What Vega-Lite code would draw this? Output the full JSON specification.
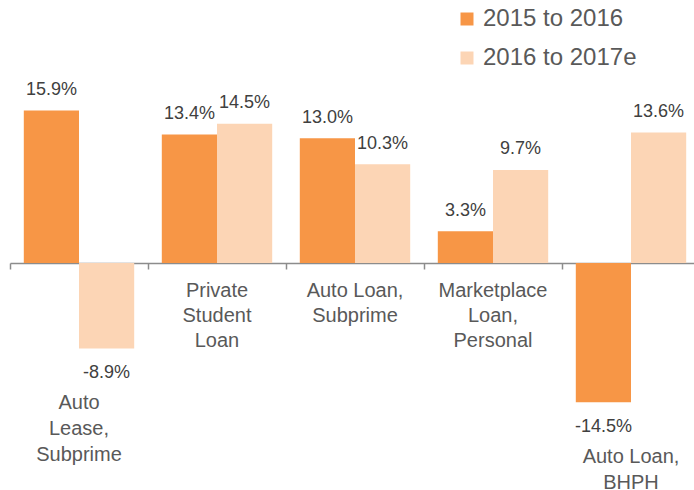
{
  "$schema": "https://vega.github.io/schema/vega-lite/v6.json",
  "width": 690,
  "height": 455,
  "autosize": {"type": "none"},
  "padding": {"left": 10, "top": 0, "right": 0, "bottom": 35},
  "background": "white",
  "config": {
    "view": {"stroke": null},
    "font": "Liberation Sans",
    "text": {"font": "Liberation Sans", "color": "#595959"}
  },
  "data": {
    "values": [
      {"category": "Auto Lease, Subprime", "lines": ["Auto", "Lease,", "Subprime"], "series": "2015 to 2016", "value": 15.9},
      {"category": "Auto Lease, Subprime", "lines": ["Auto", "Lease,", "Subprime"], "series": "2016 to 2017e", "value": -8.9},
      {"category": "Private Student Loan", "lines": ["Private", "Student", "Loan"], "series": "2015 to 2016", "value": 13.4},
      {"category": "Private Student Loan", "lines": ["Private", "Student", "Loan"], "series": "2016 to 2017e", "value": 14.5},
      {"category": "Auto Loan, Subprime", "lines": ["Auto Loan,", "Subprime"], "series": "2015 to 2016", "value": 13.0},
      {"category": "Auto Loan, Subprime", "lines": ["Auto Loan,", "Subprime"], "series": "2016 to 2017e", "value": 10.3},
      {"category": "Marketplace Loan, Personal", "lines": ["Marketplace", "Loan,", "Personal"], "series": "2015 to 2016", "value": 3.3},
      {"category": "Marketplace Loan, Personal", "lines": ["Marketplace", "Loan,", "Personal"], "series": "2016 to 2017e", "value": 9.7},
      {"category": "Auto Loan, BHPH", "lines": ["Auto Loan,", "BHPH"], "series": "2015 to 2016", "value": -14.5},
      {"category": "Auto Loan, BHPH", "lines": ["Auto Loan,", "BHPH"], "series": "2016 to 2017e", "value": 13.6}
    ]
  },
  "transform": [
    {"calculate": "replace(format(datum.value, '.1f'), '\u2212', '-') + '%'", "as": "label"}
  ],
  "encoding": {
    "x": {
      "field": "category",
      "type": "nominal",
      "sort": null,
      "scale": {"paddingInner": 0.2, "paddingOuter": 0.1},
      "axis": {
        "title": null,
        "labels": false,
        "orient": "bottom",
        "offset": -192,
        "bandPosition": -0.125,
        "domainColor": "#8c8c8c",
        "domainWidth": 1.5,
        "tickColor": "#8c8c8c",
        "tickWidth": 1.5,
        "tickSize": 6
      }
    },
    "y": {
      "type": "quantitative",
      "scale": {"domain": [-20, 27.4], "nice": false, "zero": false},
      "axis": null
    }
  },
  "layer": [
    {
      "mark": {"type": "bar"},
      "encoding": {
        "xOffset": {"field": "series", "type": "nominal"},
        "y": {"field": "value", "type": "quantitative"},
        "color": {
          "field": "series",
          "type": "nominal",
          "scale": {"domain": ["2015 to 2016", "2016 to 2017e"], "range": ["#F79646", "#FCD5B5"]},
          "legend": {
            "title": null,
            "orient": "none",
            "legendX": 445,
            "legendY": 7,
            "padding": 0,
            "symbolType": "square",
            "symbolSize": 169,
            "symbolStrokeWidth": 0,
            "labelFontSize": 24,
            "labelFont": "Liberation Sans",
            "labelColor": "#595959",
            "labelOffset": 4,
            "rowPadding": 15,
            "labelLimit": 300
          }
        }
      }
    },
    {
      "transform": [{"filter": "datum.value >= 0"}],
      "mark": {"type": "text", "fontSize": 18, "baseline": "alphabetic", "dy": -15.5, "color": "#404040"},
      "encoding": {
        "xOffset": {"field": "series", "type": "nominal"},
        "y": {"field": "value", "type": "quantitative"},
        "text": {"field": "label", "type": "nominal"}
      }
    },
    {
      "transform": [{"filter": "datum.value < 0"}],
      "mark": {"type": "text", "fontSize": 18, "baseline": "alphabetic", "dy": 29.5, "color": "#404040"},
      "encoding": {
        "xOffset": {"field": "series", "type": "nominal"},
        "y": {"field": "value", "type": "quantitative"},
        "text": {"field": "label", "type": "nominal"}
      }
    },
    {
      "transform": [
        {"joinaggregate": [{"op": "min", "field": "value", "as": "minv"}], "groupby": ["category"]},
        {"filter": "datum.series === '2015 to 2016' && datum.minv >= 0"}
      ],
      "mark": {"type": "text", "fontSize": 20, "baseline": "alphabetic", "dy": 33.5, "lineHeight": 25},
      "encoding": {
        "y": {"datum": 0, "type": "quantitative"},
        "text": {"field": "lines", "type": "nominal"}
      }
    },
    {
      "transform": [
        {"joinaggregate": [{"op": "min", "field": "value", "as": "minv"}], "groupby": ["category"]},
        {"filter": "datum.series === '2015 to 2016' && datum.minv < 0"}
      ],
      "mark": {"type": "text", "fontSize": 20, "baseline": "alphabetic", "dy": 61, "lineHeight": 26},
      "encoding": {
        "y": {"field": "minv", "type": "quantitative"},
        "text": {"field": "lines", "type": "nominal"}
      }
    }
  ]
}
